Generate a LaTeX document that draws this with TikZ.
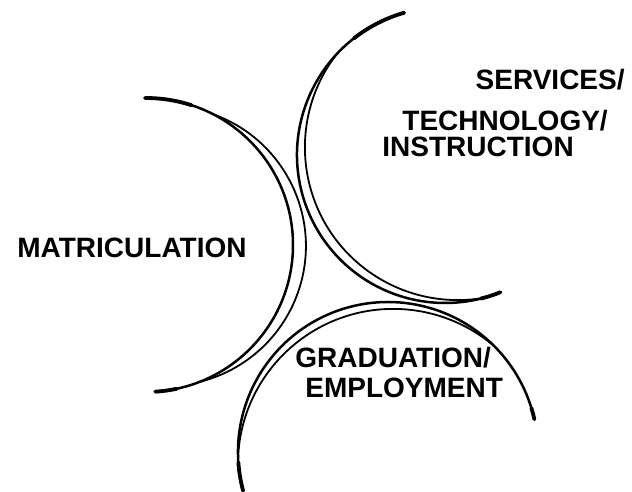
\documentclass[tikz,border=0pt]{standalone}
\usepackage{fontspec}
\setmainfont{Liberation Sans}
\usepackage{tikz}
\tikzset{
  ring/.style={line width=1.25pt, line cap=round},
  ringin/.style={line width=0.9pt, line cap=round},
  ringtip/.style={line width=1.9pt, line cap=round},
  stage/.style={font=\bfseries\fontsize{14}{14}\selectfont, inner sep=0pt}
}

\begin{document}
\begin{tikzpicture}[x=0.5pt,y=0.5pt]
  \useasboundingbox (0,0) rectangle (632,492);

  % Circle centres
  \coordinate (matC) at (146,247);
  \coordinate (srvC) at (445,337);
  \coordinate (grdC) at (388,40);

  % Matriculation arc (second line outside)
  \draw[ring] (matC) ++(90.4:147) arc[start angle=90.4, end angle=-86.4, radius=147];
  \draw[ringin] (165.9,246) ++(70.4:140) arc[start angle=70.4, end angle=-76.4, radius=140];
  \draw[ringtip] (matC) ++(90.4:147) arc[start angle=90.4, end angle=72, radius=147];
  \draw[ringtip] (matC) ++(-78:147) arc[start angle=-78, end angle=-86.4, radius=147];

  % Services arc (second line inside)
  \draw[ring] (srvC) ++(106:148) arc[start angle=106, end angle=292, radius=148];
  \draw[ringin] (457.6,344.6) ++(142.3:152.7) arc[start angle=142.3, end angle=279.7, radius=152.7];
  \draw[ringtip] (srvC) ++(106:148) arc[start angle=106, end angle=128, radius=148];
  \draw[ringtip] (srvC) ++(284:148) arc[start angle=284, end angle=292, radius=148];

  % Graduation arc (second line inside)
  \draw[ring] (grdC) ++(195:150) arc[start angle=195, end angle=12.6, radius=150];
  \draw[ringin] (393.3,27.7) ++(177.4:155.4) arc[start angle=177.4, end angle=49.6, radius=155.4];
  \draw[ringtip] (grdC) ++(195:150) arc[start angle=195, end angle=184, radius=150];
  \draw[ringtip] (grdC) ++(17:150) arc[start angle=17, end angle=12.6, radius=150];

  % Labels
  \node[stage, anchor=base west] (mat) at (17,234) {MATRICULATION};
  \node[stage, anchor=base east] (serv) at (625,402) {SERVICES/};
  \node[stage, anchor=base west] (tech) at (402,361) {TECHNOLOGY/};
  \node[stage, anchor=base west] (instr) at (382,335) {INSTRUCTION};
  \node[stage, anchor=base west] (grad) at (295,124) {GRADUATION/};
  \node[stage, anchor=base west] (empl) at (305,94) {EMPLOYMENT};
\end{tikzpicture}
\end{document}
